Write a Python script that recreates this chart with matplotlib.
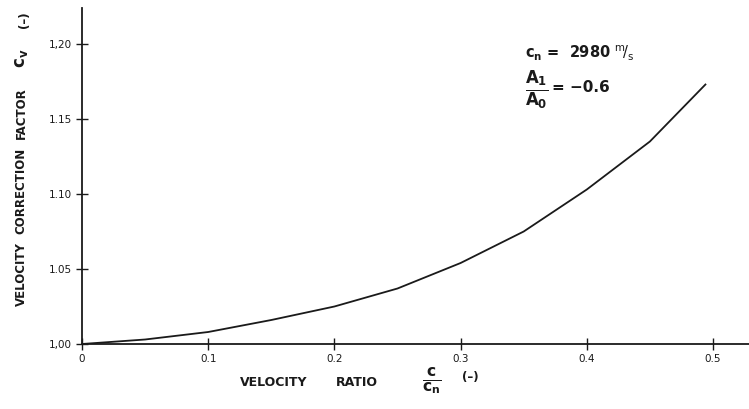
import matplotlib
matplotlib.use('Agg')
import matplotlib.pyplot as plt

# values
velocity_ratio = [0.0, 0.05, 0.10, 0.15, 0.20, 0.25, 0.30, 0.35, 0.40, 0.45, 0.494]
correction     = [1.000, 1.003, 1.008, 1.016, 1.025, 1.037, 1.054, 1.075, 1.103, 1.135, 1.173]

x_ticks  = [0, 0.1, 0.2, 0.3, 0.4, 0.5]
x_labels = ['0', '0.1', '0.2', '0.3', '0.4', '0.5']
y_ticks  = [1.00, 1.05, 1.10, 1.15, 1.20]
y_labels = ['1,00', '1.05', '1.10', '1.15', '1,20']

W, H = 749, 409
FONT = ['Liberation Sans Narrow', 'DejaVu Sans']
plt.rcParams['font.family'] = FONT
plt.rcParams['mathtext.fontset'] = 'dejavusans'


def fx(px):
    return px / W


def fy(py):
    return 1 - py / H


fig = plt.figure(figsize=(W / 100, H / 100), dpi=100)
ax = fig.add_axes([fx(82), (H - 344) / H, (W - 82) / W, 336 / H])

ax.plot(velocity_ratio, correction, color='#1a1a1a', lw=1.3)

ax.set_xlim(0, 667 / 1262)
ax.set_ylim(1.0, 1.0 + 336 / 1500)
for s in ('top', 'right'):
    ax.spines[s].set_visible(False)
for s in ('left', 'bottom'):
    ax.spines[s].set_linewidth(1.3)
    ax.spines[s].set_color('#1a1a1a')

ax.set_xticks(x_ticks)
ax.set_xticklabels(x_labels)
ax.set_yticks(y_ticks)
ax.set_yticklabels(y_labels)
ax.tick_params(direction='inout', length=8, width=1, colors='#1a1a1a',
               labelsize=7.5, pad=3)

# axis titles, placed in figure pixels
bold = dict(fontweight='bold', color='#1a1a1a', family=FONT)
fig.text(fx(274), fy(383), 'VELOCITY', fontsize=9, ha='center', va='center', **bold)
fig.text(fx(357), fy(383), 'RATIO', fontsize=9, ha='center', va='center', **bold)
fig.text(fx(432), fy(381), r'$\mathbf{\frac{c}{c_n}}$', fontsize=16, ha='center', va='center', **bold)
fig.text(fx(470), fy(377), '(\u2013)', fontsize=8.5, ha='center', va='center', **bold)

fig.text(fx(21), fy(274), 'VELOCITY', fontsize=8.5, rotation=90, ha='center', va='center', **bold)
fig.text(fx(21), fy(191), 'CORRECTION', fontsize=8.5, rotation=90, ha='center', va='center', **bold)
fig.text(fx(21), fy(113), 'FACTOR', fontsize=8.5, rotation=90, ha='center', va='center', **bold)
fig.text(fx(21), fy(58), r'$\mathbf{c_v}$', fontsize=12, rotation=90, ha='center', va='center', **bold)
fig.text(fx(25), fy(20), '(\u2013)', fontsize=8.5, rotation=90, ha='center', va='center', **bold)

# parameter notes
fig.text(fx(525), fy(53), r'$\mathbf{c_n}$ =  2980 $^{\mathrm{m}}\!/_{\mathrm{s}}$',
         fontsize=10.5, ha='left', va='center', **bold)
fig.text(fx(537), fy(90), r'$\mathbf{\frac{A_1}{A_0}}$',
         fontsize=17, ha='center', va='center', **bold)
fig.text(fx(552), fy(87), '= \u22120.6',
         fontsize=11, ha='left', va='center', **bold)

fig.savefig('out.png', dpi=100)
